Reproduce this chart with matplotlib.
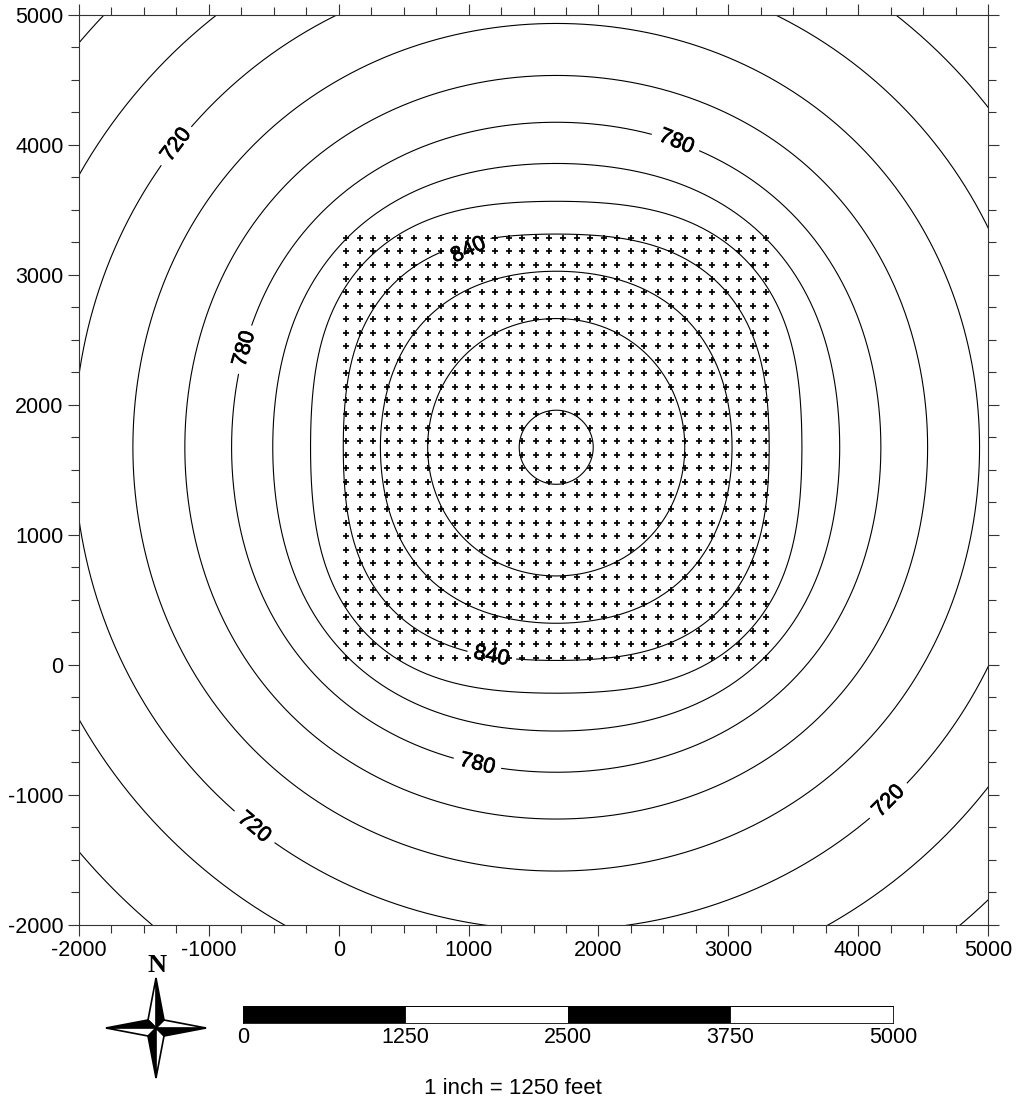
import numpy as np
import matplotlib
matplotlib.use('Agg')
import matplotlib.pyplot as plt
import matplotlib.patheffects as pe
from matplotlib.ticker import MultipleLocator
from matplotlib.patches import Polygon

plt.rcParams['font.family'] = ['Liberation Sans', 'DejaVu Sans']
plt.rcParams['axes.unicode_minus'] = False

W, H = 1020, 1101

# head contours, radius in feet from the centre of the well field
levels = [900, 880, 860, 840, 820, 800, 780, 760, 740, 720, 700, 680]
r_axis = [285, 990, 1354, 1640, 1892, 2183, 2500, 2860, 3260, 3715, 4225, 4815]
r_diag = [285, 998, 1405, 1775, 2050, 2277, 2554, 2900, 3292, 3738, 4231, 4815]
center = 1675

# wells
well_x = [58, 162, 266, 371, 475, 579, 684, 788, 892, 997, 1101, 1205, 1310, 1414, 1518, 1623,
          1727, 1832, 1936, 2040, 2145, 2249, 2353, 2458, 2562, 2666, 2771, 2875, 2979, 3084, 3188, 3292]
well_y = [54, 158, 262, 367, 471, 575, 679, 784, 888, 992, 1096, 1201, 1305, 1409, 1513, 1618,
          1722, 1826, 1931, 2035, 2139, 2243, 2348, 2452, 2556, 2660, 2765, 2869, 2973, 3078, 3182, 3286]

# contour labels: level, direction from centre (deg), text rotation, shift off the line (ft)
label_level = [720, 780, 780, 840, 840, 780, 720, 720]
label_dir = [141.6, 68.6, 162.6, 113.9, 252.8, 256, 231.5, 313.3]
label_rot = [53, -22, 74, 25, -12, -14, -40, 45]
label_off = [0, 0, 0, -55, 0, 0, 0, 0]

bar_edges = [0, 1250, 2500, 3750, 5000]
bar_colors = ['black', 'white', 'black', 'white']


def px_axes(l, t, r, b):
    return fig.add_axes([l / W, 1 - b / H, (r - l) / W, (b - t) / H])


def radius_curve(i, n=1440):
    # 8 directions from the read radii, smoothed around the circle
    s = np.fft.rfft(np.array([r_axis[i], r_diag[i]] * 4, dtype=float))
    s[-1] /= 2
    return np.fft.irfft(s, n) * n / 8


fig = plt.figure(figsize=(W / 100, H / 100), dpi=100)
ax = px_axes(79, 15, 988, 925)
ax.set_xlim(-2000, 5000)
ax.set_ylim(-2000, 5000)

theta = np.linspace(0, 2 * np.pi, 1440, endpoint=False)
for i, lev in enumerate(levels):
    r = radius_curve(i)
    x = center + r * np.cos(theta)
    y = center + r * np.sin(theta)
    for lv, d in zip(label_level, label_dir):
        if lv == lev:
            delta = np.abs((np.degrees(theta) - d + 180) % 360 - 180)
            m = np.radians(delta) * r < 185
            x[m] = np.nan
            y[m] = np.nan
    ax.plot(np.append(x, x[0]), np.append(y, y[0]), color='black', lw=0.8, solid_capstyle='butt')

wx, wy = np.meshgrid(well_x, well_y)
ax.plot(wx.ravel(), wy.ravel(), '+', color='black', ms=5, mew=1.25, zorder=3)

for lv, d, rot, off in zip(label_level, label_dir, label_rot, label_off):
    r = radius_curve(levels.index(lv))
    k = int(round(d * 4)) % 1440
    ax.text(center + (r[k] + off) * np.cos(theta[k]), center + (r[k] + off) * np.sin(theta[k]), str(lv),
            rotation=rot, rotation_mode='anchor', ha='center', va='center',
            fontsize=15.5, zorder=4,
            path_effects=[pe.withStroke(linewidth=0.5, foreground='black')])

ax.xaxis.set_major_locator(MultipleLocator(1000))
ax.yaxis.set_major_locator(MultipleLocator(1000))
ax.xaxis.set_minor_locator(MultipleLocator(250))
ax.yaxis.set_minor_locator(MultipleLocator(250))
ax.tick_params(which='both', direction='out', top=True, right=True, color='#333333', width=0.8)
ax.tick_params(which='major', length=8, labelsize=15.5, pad=3)
ax.tick_params(which='minor', length=5.5)
for s in ax.spines.values():
    s.set_color('#333333')
    s.set_linewidth(0.8)

# scale bar
bar = px_axes(243, 1006, 893, 1023)
bar.set_xlim(bar_edges[0], bar_edges[-1])
bar.set_ylim(0, 1)
bar.bar(bar_edges[:-1], 1, width=np.diff(bar_edges), align='edge', color=bar_colors, edgecolor='black', lw=0.6)
bar.set_yticks([])
bar.set_xticks(bar_edges)
bar.tick_params(length=0, labelsize=15.5, pad=3)
for s in bar.spines.values():
    s.set_linewidth(0.6)
fig.text(513 / W, 1 - 1088 / H, '1 inch = 1250 feet', ha='center', va='center', fontsize=16)

# north arrow
tip = 50
inner = 8
na = px_axes(100, 972, 212, 1084)
na.set_xlim(-56, 56)
na.set_ylim(-56, 56)
na.axis('off')
dirs = [(0, 1), (1, 0), (0, -1), (-1, 0)]
for (dx, dy) in dirs:
    a = (dx * tip, dy * tip)
    for side, col in ((1, 'black'), (-1, 'white')):
        # right-hand half of the arm is black
        c = (dx * inner + dy * inner * side, dy * inner - dx * inner * side)
        na.add_patch(Polygon([(0, 0), a, c], closed=True, fc=col, ec='black', lw=1.2))
fig.text(157 / W, 1 - 966 / H, 'N', family='Liberation Serif', ha='center', va='center', fontsize=19, fontweight='bold')

fig.savefig('out.png', dpi=100)
